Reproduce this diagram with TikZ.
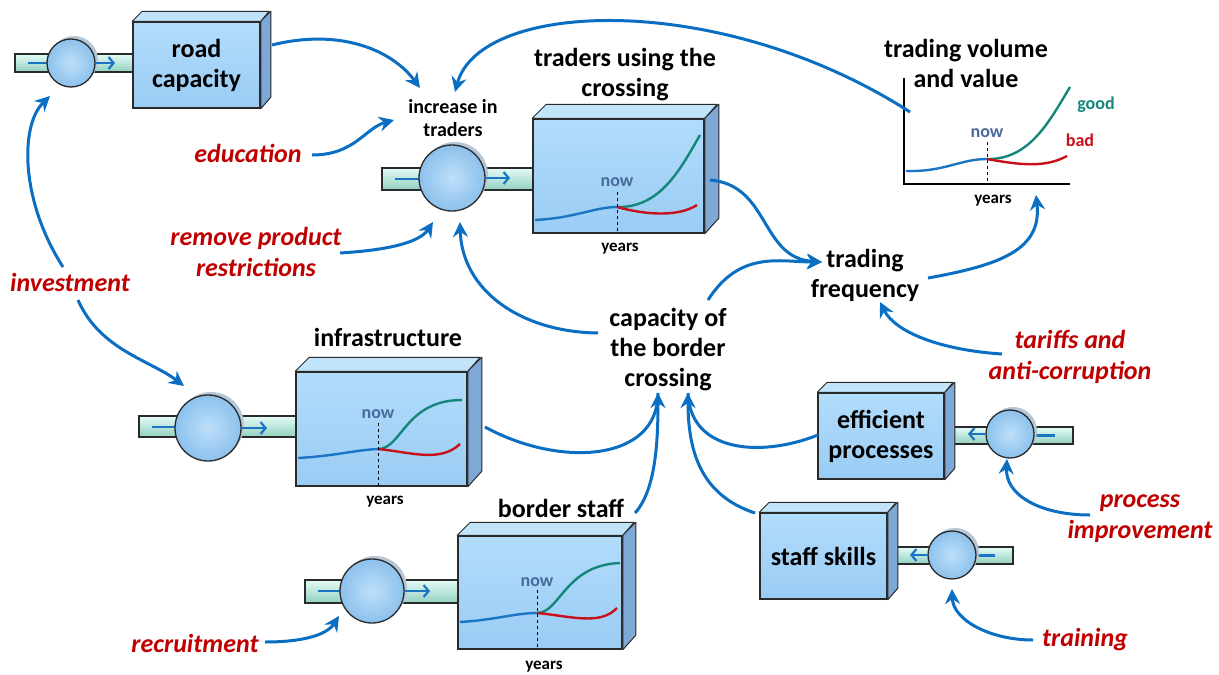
\documentclass[tikz,border=0pt]{standalone}
\usepackage{fontspec}
\setmainfont{Carlito}
\usetikzlibrary{arrows.meta}
\definecolor{arr}{HTML}{0A6FC2}
\definecolor{redt}{HTML}{C00000}
\definecolor{edge}{HTML}{2A2A2A}
\definecolor{fronttop}{HTML}{B2DCFB}
\definecolor{frontbot}{HTML}{9ACCF4}
\definecolor{topface}{HTML}{C2E4FB}
\definecolor{sideface}{HTML}{7EA8D6}
\definecolor{pipetop}{HTML}{E4FBF6}
\definecolor{pipebot}{HTML}{92D0C0}
\definecolor{valvein}{HTML}{BEDFF9}
\definecolor{valveout}{HTML}{8CC1EC}
\definecolor{valvesh}{HTML}{B5C6D6}
\definecolor{gcurve}{HTML}{15877A}
\definecolor{rcurve}{HTML}{C8101A}
\definecolor{bcurve}{HTML}{1B74C4}
\definecolor{nowc}{HTML}{4A6A9E}
\newcommand\fbig{\fontsize{26}{30}\selectfont\bfseries}
\newcommand\fmid{\fontsize{20}{23}\selectfont\bfseries}
\newcommand\fsmall{\fontsize{17}{19}\selectfont\bfseries}
\newcommand\fnow{\fontsize{18}{20}\selectfont\bfseries}
\newcommand\fred{\fontsize{26}{31}\selectfont\bfseries\itshape}
\tikzset{
 link/.style={draw=arr, line width=3pt, -{Stealth[length=15pt,width=15pt,inset=5pt]}},
 plainlink/.style={draw=arr, line width=3pt},
 flow/.style={draw=bcurve, line width=2.2pt},
 flowarrow/.style={draw=bcurve, line width=2.2pt, -{Straight Barb[length=5pt,width=12pt]}},
 pipe/.style={draw=edge, line width=1.2pt, top color=pipetop, bottom color=pipebot},
 stockface/.style={draw=edge, line width=1.5pt, top color=fronttop, bottom color=frontbot, inner sep=0pt, font=\fbig, align=center},
 topf/.style={draw=edge, line width=1pt, fill=topface, line join=round},
 sidef/.style={draw=edge, line width=1pt, fill=sideface, line join=round},
 valvest/.style={circle, draw=edge, line width=1.3pt, inner color=valvein, outer color=valveout, inner sep=0pt},
 bigtxt/.style={font=\fbig, align=center},
 redtxt/.style={font=\fred, text=redt, align=center},
 yrs/.style={font=\fsmall},
 nowtxt/.style={font=\fnow, text=nowc},
 bluec/.style={draw=bcurve, line width=2.4pt},
 greenc/.style={draw=gcurve, line width=2.4pt},
 redc/.style={draw=rcurve, line width=2.4pt},
 nowline/.style={draw=black, line width=0.8pt, dashed},
}
\newcommand\mkstock[7]{%
 \node[stockface, minimum width=#4pt, minimum height=#5pt] (#1) at (#2,#3) {#7};
 \draw[sidef] (#1.north east) -- ++(#6,-#6) -- ++(0,#5) -- (#1.south east) -- cycle;
 \draw[topf] (#1.north west) -- ++(#6,-#6) -- ++(#4,0) -- (#1.north east) -- cycle;
}
\newcommand\mkvalve[4]{%
 \fill[valvesh] (#2+3,#3-3) circle (#4pt);
 \node[valvest, minimum size={(2*#4)*1pt}] (#1) at (#2,#3) {};
}
\begin{document}
\begin{tikzpicture}[x=1pt,y=-1pt]
\useasboundingbox (0,0) rectangle (1219,675);
\fill[white] (0,0) rectangle (1219,675);

% ---------- road capacity
\draw[pipe] (15,54) rectangle (133,72);
\draw[flow] (28,63) -- (60,63);
\mkvalve{v1}{71}{63}{24}
\draw[flowarrow] (v1.east) -- (115,63);
\mkstock{road}{196.5}{65}{127}{86}{10}{road\\capacity}

% ---------- traders using the crossing
\draw[pipe] (382,168) rectangle (533,190);
\draw[flow] (395,179) -- (430,179);
\mkvalve{v2}{452}{178}{33}
\draw[flowarrow] (v2.east) -- (510,178);
\mkstock{traders}{618.5}{176}{171}{114}{14}{}
\draw[bluec] (535,220) .. controls (575,218) and (595,207) .. (617,207);
\draw[greenc] (617,207) .. controls (660,208) and (680,170) .. (700,135);
\draw[redc] (617,207) .. controls (650,216) and (680,216) .. (697,205);
\draw[nowline] (617,192) -- (617,233);
\node[nowtxt] (now1) at (617,182) {now};
\node[yrs] (yr1) at (620,249) {years};
\node[bigtxt] (trtitle) at (625,75) {traders using the\\crossing};
\node[font=\fmid, align=center] (incr) at (453,118) {increase in\\traders};

% ---------- infrastructure
\draw[pipe] (139,416) rectangle (296,437);
\draw[flow] (152,427) -- (190,427);
\mkvalve{v3}{208}{428}{33}
\draw[flowarrow] (v3.east) -- (267,428);
\mkstock{infra}{381.5}{429}{171}{114}{14}{}
\draw[bluec] (298,458) .. controls (335,456) and (355,450) .. (378,449);
\draw[greenc] (378,449) .. controls (402,449) and (405,400) .. (462,400);
\draw[redc] (378,449) .. controls (410,452) and (440,463) .. (460,444);
\draw[nowline] (378,423) -- (378,486);
\node[nowtxt] (now2) at (378,414) {now};
\node[yrs] (yr2) at (385,502) {years};
\node[bigtxt] (inftitle) at (388,337) {infrastructure};

% ---------- border staff
\draw[pipe] (305,580) rectangle (458,603);
\draw[flow] (318,591) -- (350,591);
\mkvalve{v4}{372}{591}{32}
\draw[flowarrow] (v4.east) -- (430,591);
\mkstock{staff}{540}{592.5}{164}{113}{13}{}
\draw[bluec] (460,622) .. controls (495,620) and (515,613) .. (537,613);
\draw[greenc] (537,613) .. controls (560,613) and (565,565) .. (620,563);
\draw[redc] (537,613) .. controls (570,616) and (600,626) .. (617,608);
\draw[nowline] (537,590) -- (537,649);
\node[nowtxt] (now3) at (537,582) {now};
\node[yrs] (yr3) at (544,667) {years};
\node[bigtxt] (stafftitle) at (561,508) {border staff};

% ---------- efficient processes
\draw[pipe] (944,427) rectangle (1073,444);
\draw[flow] (1030,435.5) -- (1055,435.5);
\mkvalve{v5}{1010}{434}{24}
\draw[flowarrow] (v5.west) -- (968,434);
\mkstock{effic}{881}{436}{126}{86}{10}{efficient\\processes}

% ---------- staff skills
\draw[pipe] (887,547) rectangle (1013,564);
\draw[flow] (972,555.5) -- (995,555.5);
\mkvalve{v6}{952}{555}{24}
\draw[flowarrow] (v6.west) -- (910,555);
\mkstock{skills}{823.5}{556}{127}{86}{10}{staff skills}

% ---------- trading volume graph
\draw[line width=1.6pt] (904,78) -- (904,184) -- (1070,184);
\draw[nowline] (987,142) -- (987,184);
\draw[bluec] (906,171) .. controls (945,172) and (960,159) .. (987,159);
\draw[greenc] (987,159) .. controls (1030,160) and (1050,120) .. (1070,87);
\draw[redc] (987,159) .. controls (1020,165) and (1045,168) .. (1067,156);
\node[nowtxt] (now4) at (987,133) {now};
\node[yrs] (yr4) at (993,201) {years};
\node[font=\fnow, text=gcurve] (good) at (1096,105) {good};
\node[font=\fnow, text=rcurve] (bad) at (1080,140) {bad};
\node[bigtxt] (voltitle) at (966,63) {trading volume\\and value};

% ---------- auxiliaries
\node[bigtxt] (freq) at (865,275) {trading\\frequency};
\node[bigtxt] (cap) at (668,350) {capacity of\\the border\\crossing};

% ---------- policy labels
\node[redtxt] (educ) at (248,153) {education};
\node[redtxt] (remove) at (256,252) {remove product\\restrictions};
\node[redtxt] (invest) at (70,282) {investment};
\node[redtxt] (tariff) at (1070,357) {tariffs and\\anti-corruption};
\node[redtxt] (procimp) at (1140,519) {process\\improvement};
\node[redtxt] (train) at (1085,640) {training};
\node[redtxt] (recruit) at (195,643) {recruitment};

% ---------- connector ends
\coordinate (a1s) at (272,45);   \coordinate (a1e) at (420,88);
\coordinate (a2s) at (910,112);  \coordinate (a2e) at (455,92);
\coordinate (a3s) at (312,155);  \coordinate (a3e) at (394,120);
\coordinate (a4s) at (340,253);  \coordinate (a4e) at (433,222);
\coordinate (a5s) at (598,333);  \coordinate (a5e) at (460,222);
\coordinate (a6s) at (710,180);  \coordinate (fin) at (822,262);
\coordinate (a7s) at (708,300);
\coordinate (a8s) at (928,278);  \coordinate (a8e) at (1036,195);
\coordinate (a9s) at (1002,354); \coordinate (a9e) at (880,302);
\coordinate (a10s) at (63,267);  \coordinate (a10e) at (50,96);
\coordinate (a11s) at (78,300);  \coordinate (a11e) at (184,386);
\coordinate (capL) at (658,393); \coordinate (capR) at (688,393);
\coordinate (a12s) at (485,427);
\coordinate (a13s) at (635,513);
\coordinate (a14s) at (818,435);
\coordinate (a15s) at (755,513);
\coordinate (a16s) at (1090,515); \coordinate (a16e) at (1007,459);
\coordinate (a17s) at (1033,640); \coordinate (a17e) at (952,589);
\coordinate (a18s) at (265,642);  \coordinate (a18e) at (339,616);

\draw[link] (a1s) .. controls (340,28) and (392,50) .. (a1e);
\draw[link] (a2s) .. controls (720,-10) and (480,0) .. (a2e);
\draw[link] (a3s) .. controls (355,155) and (365,128) .. (a3e);
\draw[link] (a4s) .. controls (390,250) and (420,242) .. (a4e);
\draw[link] (a5s) .. controls (520,332) and (462,290) .. (a5e);
\draw[link] (a6s) .. controls (770,185) and (760,258) .. (fin);
\draw[link] (a7s) .. controls (740,250) and (780,262) .. (fin);
\draw[link] (a8s) .. controls (1000,265) and (1042,250) .. (a8e);
\draw[link] (a9s) .. controls (940,350) and (895,332) .. (a9e);
\draw[link] (a10s) .. controls (20,200) and (20,125) .. (a10e);
\draw[link] (a11s) .. controls (100,350) and (150,360) .. (a11e);
\draw[plainlink] (a12s) .. controls (560,468) and (658,462) .. (capL);
\draw[link] (a13s) .. controls (656,490) and (658,440) .. (capL);
\draw[plainlink] (a14s) .. controls (760,458) and (690,452) .. (capR);
\draw[link] (a15s) .. controls (700,495) and (688,450) .. (capR);
\draw[link] (a16s) .. controls (1040,515) and (1005,495) .. (a16e);
\draw[link] (a17s) .. controls (990,640) and (953,620) .. (a17e);
\draw[link] (a18s) .. controls (300,642) and (326,636) .. (a18e);
\end{tikzpicture}
\end{document}
